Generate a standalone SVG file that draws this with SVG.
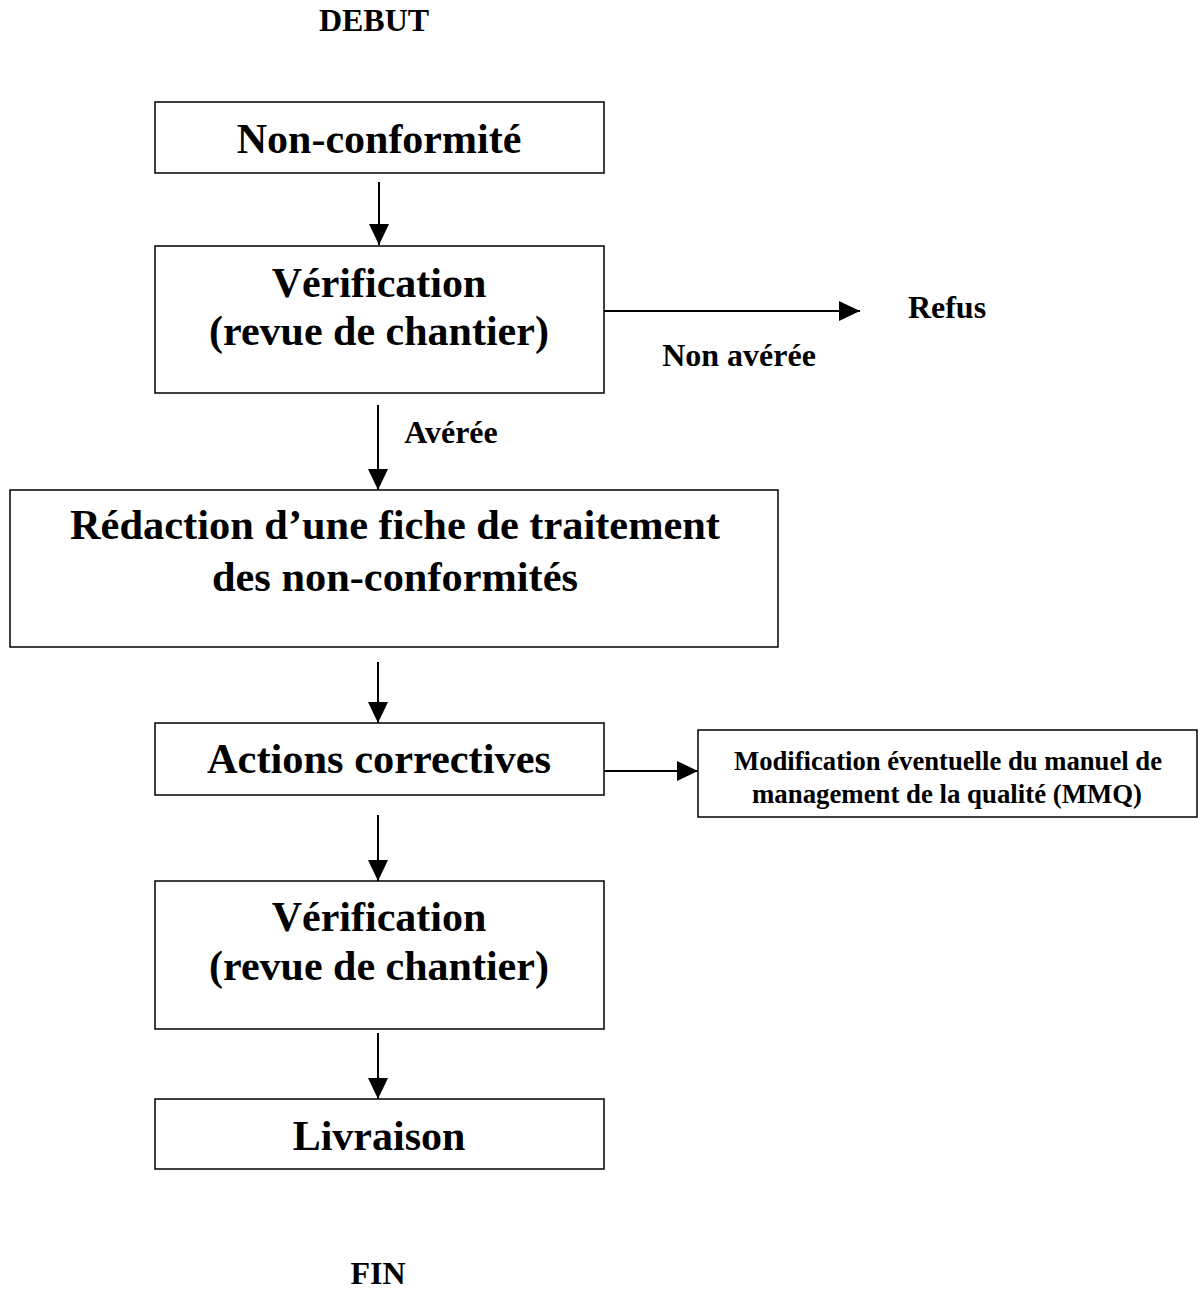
<svg xmlns="http://www.w3.org/2000/svg" width="1198" height="1294" viewBox="0 0 1198 1294">
<defs>
<style>
.box{fill:#fff;stroke:#000;stroke-width:1.5}
.t{font-family:'Liberation Serif','Times New Roman',Tinos,Times,serif;font-weight:700;fill:#000}
.big{font-size:42px}
.lbl{font-size:32px}
.sm{font-size:27px}
.c{stroke:#000;stroke-width:2;fill:none}
</style>
<marker id="ah" markerUnits="userSpaceOnUse" markerWidth="22" markerHeight="22" viewBox="0 0 22 22" refX="21" refY="11" orient="auto">
<path d="M0,1 L21,11 L0,21 Z" fill="#000"/>
</marker>
</defs>
<g id="debut"><text class="t lbl" x="374" y="31" text-anchor="middle">DEBUT</text></g>
<g id="n1"><rect class="box" x="155" y="102" width="449" height="71"/><text class="t big" x="379" y="153" text-anchor="middle">Non-conformité</text></g>
<g id="n2"><rect class="box" x="155" y="246" width="449" height="147"/><text class="t big" x="379" y="297" text-anchor="middle">Vérification</text><text class="t big" x="379" y="345" text-anchor="middle">(revue de chantier)</text></g>
<g id="refus"><text class="t lbl" x="947" y="318" text-anchor="middle">Refus</text></g>
<g id="n3"><rect class="box" x="10" y="490" width="768" height="157"/><text class="t big" x="395" y="539" text-anchor="middle" textLength="650" lengthAdjust="spacingAndGlyphs">Rédaction d’une fiche de traitement</text><text class="t big" x="395" y="591" text-anchor="middle" textLength="366" lengthAdjust="spacingAndGlyphs">des non-conformités</text></g>
<g id="n4"><rect class="box" x="155" y="723" width="449" height="72"/><text class="t big" x="379" y="773" text-anchor="middle" textLength="344" lengthAdjust="spacingAndGlyphs">Actions correctives</text></g>
<g id="n5"><rect class="box" x="698" y="730" width="499" height="87"/><text class="t sm" x="948" y="770" text-anchor="middle" textLength="428" lengthAdjust="spacingAndGlyphs">Modification éventuelle du manuel de</text><text class="t sm" x="947" y="803" text-anchor="middle" textLength="390" lengthAdjust="spacingAndGlyphs">management de la qualité (MMQ)</text></g>
<g id="n6"><rect class="box" x="155" y="881" width="449" height="148"/><text class="t big" x="379" y="931" text-anchor="middle">Vérification</text><text class="t big" x="379" y="980" text-anchor="middle">(revue de chantier)</text></g>
<g id="n7"><rect class="box" x="155" y="1099" width="449" height="70"/><text class="t big" x="379" y="1150" text-anchor="middle">Livraison</text></g>
<g id="fin"><text class="t lbl" x="378" y="1284" text-anchor="middle">FIN</text></g>
<g id="connectors">
<line class="c" x1="379" y1="182" x2="379" y2="245" marker-end="url(#ah)"/>
<line class="c" x1="604" y1="311" x2="860" y2="311" marker-end="url(#ah)"/>
<text class="t lbl" x="739" y="366" text-anchor="middle">Non avérée</text>
<line class="c" x1="378" y1="405" x2="378" y2="490" marker-end="url(#ah)"/>
<text class="t lbl" x="451" y="443" text-anchor="middle">Avérée</text>
<line class="c" x1="378" y1="662" x2="378" y2="723" marker-end="url(#ah)"/>
<line class="c" x1="604" y1="771" x2="698" y2="771" marker-end="url(#ah)"/>
<line class="c" x1="378" y1="815" x2="378" y2="881" marker-end="url(#ah)"/>
<line class="c" x1="378" y1="1033" x2="378" y2="1099" marker-end="url(#ah)"/>
</g>
</svg>
